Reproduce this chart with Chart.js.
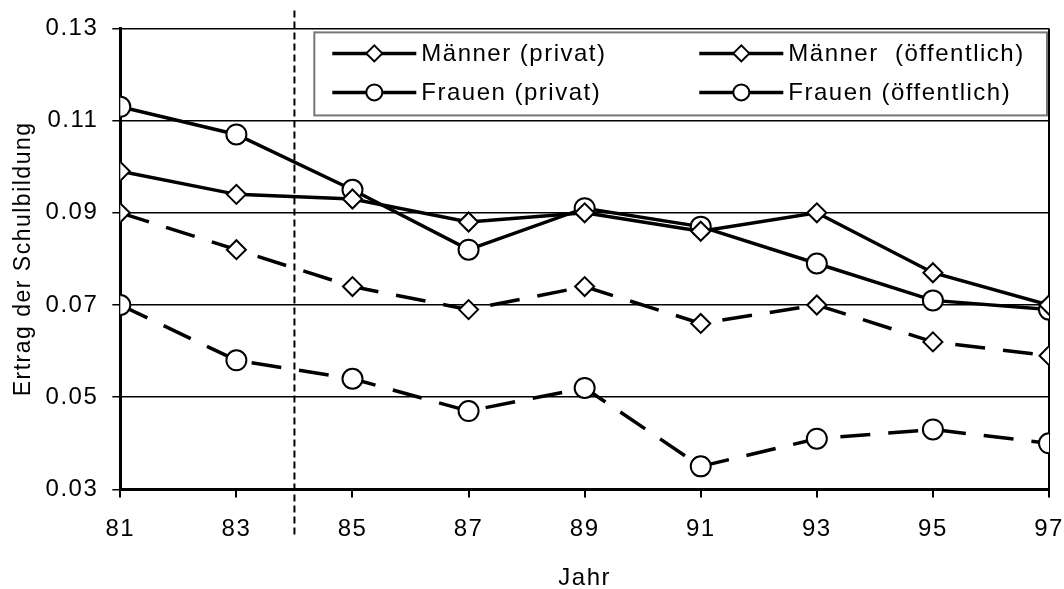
<!DOCTYPE html>
<html>
<head>
<meta charset="utf-8">
<script src="https://cdn.jsdelivr.net/npm/chart.js@4"></script>
<style>
  body { margin: 0; background: #fff; }
  #wrap { width: 1064px; height: 589px; }
</style>
</head>
<body>
<div id="wrap"><canvas id="lineChart" width="1064" height="589"></canvas></div>
<script>
// Jahre (x-Achse)
var jahre = [81, 83, 85, 87, 89, 91, 93, 95, 97];
var yTicks = [0.03, 0.05, 0.07, 0.09, 0.11, 0.13];
var trennJahr = 84; // gestrichelte Linie

var labels = ['Männer (privat)', 'Männer  (öffentlich)', 'Frauen (privat)', 'Frauen (öffentlich)'];
var maennerPrivat     = [0.099, 0.094, 0.093, 0.088, 0.090, 0.086, 0.090, 0.077, 0.070];
var maennerOeffentl   = [0.090, 0.082, 0.074, 0.069, 0.074, 0.066, 0.070, 0.062, 0.059];
var frauenPrivat      = [0.113, 0.107, 0.095, 0.082, 0.091, 0.087, 0.079, 0.071, 0.069];
var frauenOeffentl    = [0.070, 0.058, 0.054, 0.047, 0.052, 0.035, 0.041, 0.043, 0.040];

var FONT = 'Liberation Sans, Arial, sans-serif';
var FS = 24;
var SPACING = '1.5px';

function pts(vals) {
    return vals.map(function (v, i) { return { x: jahre[i], y: v }; });
}

function serie(label, vals, style, dashed) {
    return {
        label: label,
        data: pts(vals),
        borderColor: '#000',
        borderWidth: 3.5,
        borderDash: dashed ? [30, 18] : [],
        pointStyle: style,
        pointRadius: style === 'circle' ? 10 : 9.5,
        pointBackgroundColor: '#fff',
        pointBorderColor: '#000',
        pointBorderWidth: 2,
        tension: 0,
        fill: false
    };
}

// Legende im Diagramm + gestrichelte Trennlinie
const extras = {
    id: 'extras',
    beforeUpdate(chart) { chart.ctx.letterSpacing = SPACING; },
    beforeDraw(chart) { chart.ctx.letterSpacing = SPACING; },
    beforeDatasetsDraw(chart) {
        const ctx = chart.ctx;
        const xp = chart.scales.x.getPixelForValue(trennJahr);
        ctx.save();
        ctx.strokeStyle = '#000';
        ctx.lineWidth = 2;
        ctx.setLineDash([7, 4]);
        ctx.beginPath();
        ctx.moveTo(xp, chart.chartArea.top - 18);
        ctx.lineTo(xp, chart.chartArea.bottom + 48);
        ctx.stroke();
        ctx.restore();
    },
    afterDatasetsDraw(chart) {
        const ctx = chart.ctx;
        const a = chart.chartArea;
        const bx = a.left + 194, by = a.top + 4, bw = a.right - 2 - bx, bh = 83;
        ctx.save();
        ctx.fillStyle = '#fff';
        ctx.fillRect(bx, by, bw, bh);
        ctx.strokeStyle = '#777';
        ctx.lineWidth = 2;
        ctx.strokeRect(bx, by, bw, bh);
        const cols = [bx + 18, bx + 385];
        const rows = [by + 21, by + 60];
        [0, 1, 2, 3].forEach(function (i) {
            const ds = chart.data.datasets[i];
            const x0 = cols[i % 2], y0 = rows[Math.floor(i / 2)];
            ctx.strokeStyle = '#000';
            ctx.lineWidth = 3.5;
            ctx.beginPath();
            ctx.moveTo(x0, y0);
            ctx.lineTo(x0 + 84, y0);
            ctx.stroke();
            ctx.fillStyle = '#fff';
            ctx.lineWidth = 2;
            Chart.helpers.drawPoint(ctx, {
                pointStyle: ds.pointStyle,
                radius: 8,
                rotation: 0,
                borderWidth: 2
            }, x0 + 42, y0);
            ctx.fillStyle = '#000';
            ctx.font = FS + 'px ' + FONT;
            ctx.textBaseline = 'middle';
            ctx.textAlign = 'left';
            ctx.fillText(ds.label, x0 + 89, y0 + 1);
        });
        ctx.restore();
    }
};

const ctx = document.getElementById('lineChart').getContext('2d');

new Chart(ctx, {
    type: 'line',
    data: {
        datasets: [
            serie(labels[0], maennerPrivat, 'rectRot', false),
            serie(labels[1], maennerOeffentl, 'rectRot', true),
            serie(labels[2], frauenPrivat, 'circle', false),
            serie(labels[3], frauenOeffentl, 'circle', true)
        ]
    },
    options: {
        responsive: false,
        animation: false,
        layout: { padding: { top: 9, right: 15, left: 4, bottom: -8 } },
        plugins: {
            legend: { display: false },
            tooltip: { enabled: false }
        },
        scales: {
            x: {
                type: 'linear',
                min: 81,
                max: 97,
                afterBuildTicks: function (ax) { ax.ticks = jahre.map(function (v) { return { value: v }; }); },
                afterFit: function (ax) { ax.paddingRight = 0; },
                ticks: { color: '#000', font: { family: FONT, size: FS }, padding: 18 },
                grid: {
                    drawOnChartArea: true,
                    color: function (c) { return c.tick && c.tick.value === 97 ? '#000' : 'rgba(0,0,0,0)'; },
                    lineWidth: 2,
                    tickColor: '#000',
                    tickLength: 8
                },
                border: { display: true, color: '#000', width: 3 },
                title: { display: true, text: 'Jahr', color: '#000', font: { family: FONT, size: FS }, padding: { top: 2 } }
            },
            y: {
                min: 0.03,
                max: 0.13,
                afterBuildTicks: function (ax) { ax.ticks = yTicks.map(function (v) { return { value: v }; }); },
                afterFit: function (ax) { ax.width -= 6; },
                ticks: {
                    color: '#000',
                    font: { family: FONT, size: FS },
                    padding: 14,
                    callback: function (v) { return v.toFixed(2); }
                },
                grid: { color: '#000', lineWidth: 1.5, tickColor: '#000', tickLength: 8 },
                border: { display: true, color: '#000', width: 3 },
                title: { display: true, text: 'Ertrag der Schulbildung', color: '#000', font: { family: FONT, size: FS - 1 }, padding: { top: 6, bottom: 0 } }
            }
        }
    },
    plugins: [extras]
});
</script>
</body>
</html>
